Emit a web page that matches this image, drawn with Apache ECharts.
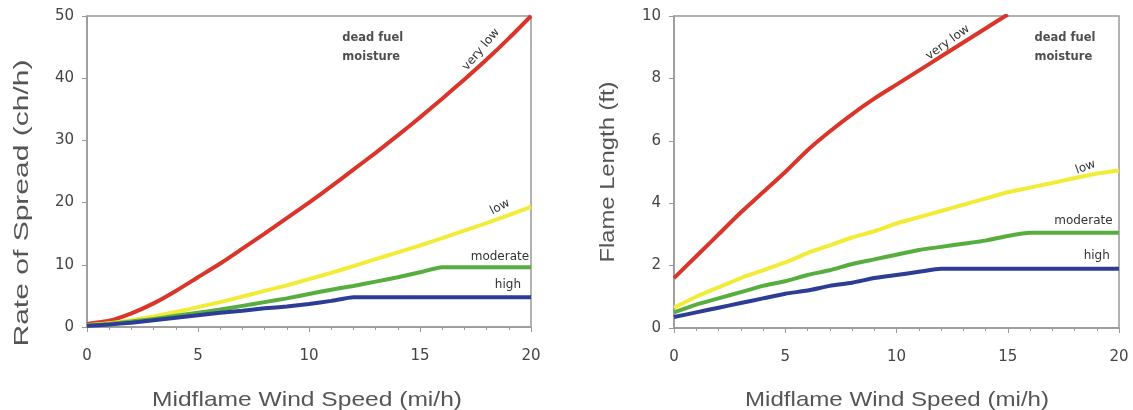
<!DOCTYPE html>
<html>
<head>
<meta charset="utf-8">
<script src="https://cdn.jsdelivr.net/npm/echarts@6/dist/echarts.min.js"></script>
<style>
html,body{margin:0;padding:0;background:#fff;}
#c{width:1133px;height:410px;}
</style>
</head>
<body>
<div id="c"></div>
<script>
// ---- data ----
const windSpeed = [0,1,2,3,4,5,6,7,8,9,10,11,12,13,14,15,16,17,18,19,20];

const rosVeryLow  = [0.5,1.0,2.2,3.8,5.8,8.0,10.2,12.6,15.0,17.5,20.0,22.6,25.3,28.0,30.8,33.7,36.7,39.8,43.0,46.4,50.0];
const rosLow      = [0.3,0.6,1.1,1.7,2.4,3.2,4.0,4.9,5.8,6.7,7.7,8.7,9.8,10.9,12.0,13.1,14.3,15.5,16.7,18.0,19.3];
const rosModerate = [0.2,0.5,0.9,1.3,1.8,2.3,2.8,3.4,4.0,4.6,5.3,6.0,6.6,7.3,8.0,8.8,9.6,9.6,9.6,9.6,9.6];
const rosHigh     = [0.2,0.4,0.7,1.1,1.5,1.9,2.3,2.6,3.0,3.3,3.7,4.2,4.8,4.8,4.8,4.8,4.8,4.8,4.8,4.8,4.8];

const flVeryLow   = [1.6,2.3,3.0,3.7,4.35,5.0,5.7,6.3,6.85,7.35,7.8,8.25,8.7,9.15,9.6,10.05];
const flLow       = [0.65,1.0,1.3,1.6,1.85,2.1,2.4,2.65,2.9,3.1,3.35,3.55,3.75,3.95,4.15,4.35,4.5,4.65,4.8,4.95,5.05];
const flModerate  = [0.5,0.75,0.95,1.15,1.35,1.5,1.7,1.85,2.05,2.2,2.35,2.5,2.6,2.7,2.8,2.95,3.05,3.05,3.05,3.05,3.05];
const flHigh      = [0.35,0.5,0.65,0.8,0.95,1.1,1.2,1.35,1.45,1.6,1.7,1.8,1.9,1.9,1.9,1.9,1.9,1.9,1.9,1.9,1.9];

const xTicks = [0,5,10,15,20];
const rosTicks = [0,10,20,30,40,50];
const flTicks = [0,2,4,6,8,10];

const xTitle = 'Midflame Wind Speed (mi/h)';
const rosTitle = 'Rate of Spread (ch/h)';
const flTitle = 'Flame Length (ft)';
const moistureNames = ['very low','low','moderate','high'];
const noteText = 'dead fuel\nmoisture';

// label anchor positions in data units [x, y, rotate]
const rosLabelPos = [[17.75,44.6,50],[18.6,19.3,27],[18.6,11.2,0],[18.96,6.8,0]];
const flLabelPos  = [[12.3,9.15,36],[18.5,5.15,20],[18.4,3.42,0],[19.0,2.3,0]];
const rosNotePos = [11.5,45];
const flNotePos  = [16.2,9.0];

// ---- chart ----
const colors = ['#d9352b','#f2ec38','#57ae3f','#2d3c94'];
const zip = arr => arr.map((v,i)=>[windSpeed[i], v]);
const FONT = 'Liberation Sans, Arial, sans-serif';
const ANNO_FONT = 'DejaVu Sans, sans-serif';

const chart = echarts.init(document.getElementById('c'));

// stretched axis titles (the reference text is drawn wider than the font)
const mctx = document.createElement('canvas').getContext('2d');
function titleText(text, cx, cy, size, targetLen, vertical){
  mctx.font = size + 'px "Liberation Sans"';
  const w = mctx.measureText(text).width || 1;
  return {
    type:'text', x:cx, y:cy, rotation: vertical ? Math.PI/2 : 0,
    scaleX: targetLen / w, scaleY: 1, silent:true,
    style:{text:text, fontSize:size, fontFamily:'Liberation Sans', fill:'#555',
      align:'center', verticalAlign:'middle', textAlign:'center', textVerticalAlign:'middle'}
  };
}

function xAxis(gi){
  return {
    type:'value', gridIndex:gi, min:0, max:20, interval:5,
    axisLine:{show:true, lineStyle:{color:'#999', width:1.5}},
    axisTick:{show:true, length:5, lineStyle:{color:'#999'}},
    minorTick:{show:true, splitNumber:5, length:3, lineStyle:{color:'#999'}},
    axisLabel:{fontSize:15, color:'#444', margin:22, fontFamily:ANNO_FONT,
      formatter: v => xTicks.includes(v) ? String(v) : ''},
    splitLine:{show:false}
  };
}
function yAxis(gi, max, interval, ticks){
  return {
    type:'value', gridIndex:gi, min:0, max:max, interval:interval,
    axisLine:{show:true, lineStyle:{color:'#999', width:1.5}},
    axisTick:{show:true, length:5, lineStyle:{color:'#999'}},
    axisLabel:{fontSize:15, color:'#444', margin:13, fontFamily:ANNO_FONT,
      formatter: v => ticks.includes(v) ? String(v) : ''},
    splitLine:{show:false}
  };
}

function makeSeries(gi, arrays, labelPos, notePos){
  const out = arrays.map((arr,k)=>({
    type:'line', xAxisIndex:gi, yAxisIndex:gi, data:zip(arr),
    showSymbol:false, smooth:0.2, clip:true,
    lineStyle:{color:colors[k], width:4},
    z:2,
    markPoint:{
      symbol:'circle', symbolSize:0, silent:true,
      data:[{coord:[labelPos[k][0], labelPos[k][1]], value:moistureNames[k],
        label:{show:true, formatter:moistureNames[k], rotate:labelPos[k][2], position:'inside',
          fontSize:12, color:'#333', fontFamily:ANNO_FONT}}]
    }
  }));
  out.push({
    type:'scatter', xAxisIndex:gi, yAxisIndex:gi, data:[notePos], symbolSize:0, silent:true,
    label:{show:true, position:'right', distance:0, formatter:noteText, align:'left',
      fontSize:11.5, fontWeight:'bold', color:'#222', lineHeight:19, fontFamily:ANNO_FONT}
  });
  return out;
}

chart.setOption({
  animation:false,
  backgroundColor:'#fff',
  grid:[
    {left:87, top:16, width:444, height:311, show:true, borderColor:'#999', borderWidth:1.5, backgroundColor:'transparent'},
    {left:674, top:16, width:445, height:312, show:true, borderColor:'#999', borderWidth:1.5, backgroundColor:'transparent'}
  ],
  xAxis:[xAxis(0), xAxis(1)],
  yAxis:[yAxis(0,50,10,rosTicks), yAxis(1,10,2,flTicks)],
  graphic:[
    titleText(xTitle, 307, 400, 21, 310, false),
    titleText(xTitle, 897, 400, 21, 304, false),
    titleText(rosTitle, 22, 203, 20, 287, true),
    titleText(flTitle, 608, 172, 20, 181, true)
  ],
  series:[
    ...makeSeries(0,[rosVeryLow,rosLow,rosModerate,rosHigh],rosLabelPos,rosNotePos),
    ...makeSeries(1,[flVeryLow,flLow,flModerate,flHigh],flLabelPos,flNotePos)
  ]
});
</script>
</body>
</html>
